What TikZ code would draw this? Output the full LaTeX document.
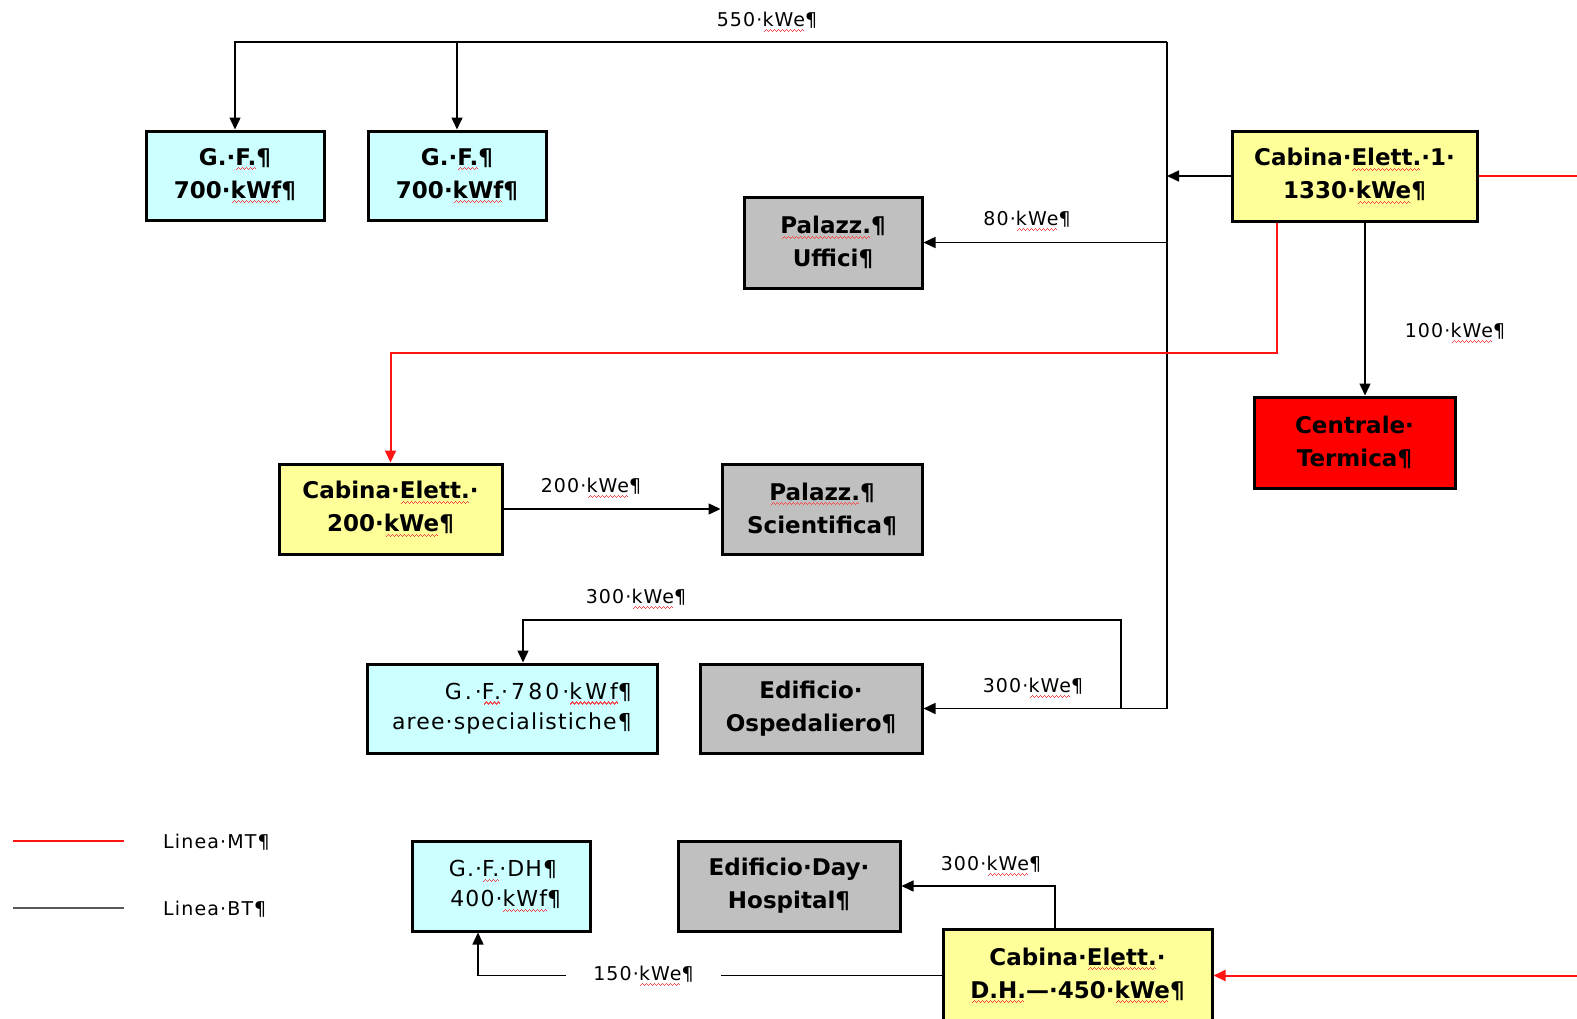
\documentclass[tikz,border=0pt]{standalone}
\usepackage{fontspec}
\usetikzlibrary{arrows.meta}
\setmainfont{DejaVu Sans}
\newfontfamily\lblfont{DejaVu Sans}[LetterSpace=6]
\newfontfamily\txtfont{DejaVu Sans}[LetterSpace=5]
\newfontfamily\widefont{DejaVu Sans}[LetterSpace=14]
\definecolor{spellred}{RGB}{245,70,70}
\definecolor{gfcyan}{RGB}{204,255,255}
\definecolor{cabyellow}{RGB}{255,255,153}
\definecolor{bldgrey}{RGB}{192,192,192}
\definecolor{ctred}{RGB}{255,0,0}
\definecolor{mtred}{RGB}{255,20,20}
% red wavy underline (spell-check mark), built from tiny rules in a zigzag
\newcommand\wavecell{%
  \rule[-5pt]{1pt}{1.1pt}\rule[-4pt]{1pt}{1.1pt}\rule[-3pt]{1pt}{1.1pt}\rule[-4pt]{1pt}{1.1pt}}
\newcommand\sq[1]{\setbox0\hbox{#1}%
  \rlap{\color{spellred}\hbox to \wd0{\cleaders\hbox{\wavecell}\hfil}}%
  \box0}
\tikzset{
  box/.style={draw=black, line width=3pt, rectangle, inner sep=0pt, align=center,
    font=\fontsize{23}{33}\selectfont\bfseries},
  gfbox/.style={box, fill=gfcyan},
  gfplain/.style={box, fill=gfcyan, font=\fontsize{22}{30}\selectfont\txtfont},
  cabbox/.style={box, fill=cabyellow},
  bldbox/.style={box, fill=bldgrey},
  ctbox/.style={box, fill=ctred},
  bt/.style={line width=1.5pt, draw=black},
  mt/.style={line width=2pt, draw=mtred},
  tip/.style={-{Triangle[length=12pt,width=11pt]}},
  lbl/.style={font=\fontsize{19}{22}\selectfont\lblfont, inner sep=0pt},
}
\begin{document}
\begin{tikzpicture}[x=1pt,y=-1pt]
\fill[white] (0,0) rectangle (1577,1018);
\useasboundingbox (0,0) rectangle (1577,1018);

% ---------- boxes ----------
\node[gfbox, minimum width=178pt, minimum height=89pt] (gf1) at (235,175.5) {G.·\sq{F.}¶\\700·\sq{kWf}¶};
\node[gfbox, minimum width=178pt, minimum height=89pt] (gf2) at (457,175.5) {G.·\sq{F.}¶\\700·\sq{kWf}¶};
\node[cabbox, minimum width=245pt, minimum height=90pt] (cab1) at (1354.5,176) {Cabina·\sq{Elett.}·1·\\1330·\sq{kWe}¶};
\node[bldbox, minimum width=178pt, minimum height=91pt] (uffici) at (833,242.5) {\sq{Palazz.}¶\\Uffici¶};
\node[ctbox, minimum width=201pt, minimum height=91pt] (centrale) at (1354.5,442.5) {Centrale·\\Termica¶};
\node[cabbox, minimum width=223pt, minimum height=90pt] (cab200) at (390.5,509) {Cabina·\sq{Elett.}·\\200·\sq{kWe}¶};
\node[bldbox, minimum width=200pt, minimum height=90pt] (scient) at (822,509) {\sq{Palazz.}¶\\Scientifica¶};
\node[gfplain, align=right, minimum width=290pt, minimum height=89pt] (gf780) at (512,708.5) {{\widefont G.·\sq{F.}·780·\sq{kWf}¶}\\aree·specialistiche¶};
\node[bldbox, minimum width=222pt, minimum height=89pt] (osped) at (811,708.5) {Edificio·\\Ospedaliero¶};
\node[gfplain, align=right, minimum width=178pt, minimum height=90pt] (gfdh) at (501,886) {\hspace*{4pt}G.·\sq{F.}·DH¶\\400·\sq{kWf}¶\hspace*{-4pt}};
\node[bldbox, minimum width=222pt, minimum height=90pt] (dayh) at (789,886) {Edificio·Day·\\Hospital¶};
\node[cabbox, minimum width=269pt, minimum height=93pt] (cabdh) at (1077.5,975.5) {Cabina·\sq{Elett.}·\\\sq{D.H.}—·450·\sq{kWe}¶};

% ---------- labels ----------
\node[lbl] (l550) at (767,22) {550·\sq{kWe}¶};
\node[lbl] (l80) at (1027,221) {80·\sq{kWe}¶};
\node[lbl] (l100) at (1455,333) {100·\sq{kWe}¶};
\node[lbl] (l200) at (591,488) {200·\sq{kWe}¶};
\node[lbl] (l300a) at (636,599) {300·\sq{kWe}¶};
\node[lbl] (l300b) at (1033,688) {300·\sq{kWe}¶};
\node[lbl] (l300c) at (991,866) {300·\sq{kWe}¶};
\node[lbl, minimum width=155pt] (l150) at (643.5,976) {150·\sq{kWe}¶};

% ---------- low-voltage distribution (BT) ----------
\coordinate (busT) at (1167,42);
\draw[bt] (busT) -- (osped.east -| busT);
\draw[bt,tip] (busT) -| (gf1.north);
\draw[bt,tip] (gf2.north |- busT) -- (gf2.north);
\draw[bt,tip] (cab1.west) -- (cab1.west -| busT);
\draw[bt,tip] (uffici.east -| busT) -- (uffici.east);
\draw[bt,tip] (osped.east -| busT) -- (osped.east);
\coordinate (loopR) at (1121,620);
\draw[bt,tip] (loopR |- osped.east) -- (loopR) -| ([xshift=11pt]gf780.north);
\draw[bt,tip] ([xshift=10.5pt]cab1.south) -- ([xshift=10.5pt]centrale.north);
\draw[bt,tip] (cab200.east) -- (scient.west);
\draw[bt,tip] ([xshift=-22.5pt]cabdh.north) |- (dayh.east);
\draw[bt] (cabdh.west) -- (l150.east |- cabdh.west);
\draw[bt,tip] (l150.west |- cabdh.west) -| ([xshift=-23pt]gfdh.south);

% ---------- medium-voltage lines (MT) ----------
\coordinate (mtA) at (1577,176);
\draw[mt] (cab1.east) -- (mtA);
\coordinate (mtbend) at (1277,353);
\draw[mt,tip] (cab1.south -| mtbend) -- (mtbend) -| (cab200.north);
\coordinate (mtB) at (1577,975.5);
\draw[mt,tip] (mtB) -- (cabdh.east);

% ---------- legend ----------
\coordinate (legMT0) at (13,841);
\coordinate (legMT1) at (124,841);
\draw[mt] (legMT0) -- (legMT1);
\node[lbl, anchor=west] (legMT) at (163,842) {Linea·MT¶};
\coordinate (legBT0) at (13,908);
\coordinate (legBT1) at (124,908);
\draw[line width=2pt, draw=black!65] (legBT0) -- (legBT1);
\node[lbl, anchor=west] (legBT) at (163,909) {Linea·BT¶};
\end{tikzpicture}
\end{document}
